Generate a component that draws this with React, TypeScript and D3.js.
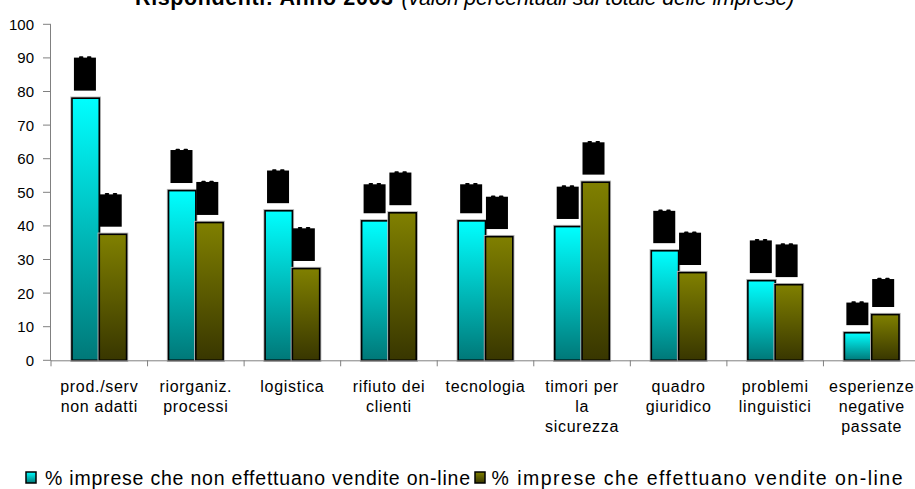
import React from "react";
import * as d3 from "d3";

// Categories (multi-line labels split on "\n")
const categories = [
  "prod./serv\nnon adatti",
  "riorganiz.\nprocessi",
  "logistica",
  "rifiuto dei\nclienti",
  "tecnologia",
  "timori per\nla\nsicurezza",
  "quadro\ngiuridico",
  "problemi\nlinguistici",
  "esperienze\nnegative\npassate",
];

const seriesNames = [
  "% imprese che non effettuano vendite on-line",
  "% imprese che effettuano vendite on-line",
];

const nonSellers = [78.0, 50.5, 44.5, 41.5, 41.5, 39.8, 32.6, 23.7, 8.2];
const sellers = [37.5, 41.0, 27.3, 43.9, 36.8, 53.0, 26.1, 22.5, 13.6];

// Upper end of the black value-label blocks above each bar (same units as the bars)
const nonSellersUpper = [90.5, 63.0, 56.9, 52.8, 52.8, 52.1, 44.9, 36.1, 17.6];
const sellersUpper = [49.8, 53.5, 39.7, 56.3, 49.1, 65.3, 38.4, 34.9, 24.6];

const yTicks = [0, 10, 20, 30, 40, 50, 60, 70, 80, 90, 100];

const titleBold = "Rispondenti: Anno 2003";
const titleItalic = "(valori percentuali sul totale delle imprese)";

const W = 915;
const H = 489;
const FONT = "Arial, 'Liberation Sans', Helvetica, sans-serif";

export default function App() {
  const y = d3.scaleLinear().domain([0, 100]).range([360.3, 24.3]);
  const x0 = d3.scaleBand<number>().domain(d3.range(categories.length)).range([51, 920]).padding(0);
  const bw = x0.bandwidth();
  const groupW = 54.6;
  const x1 = d3
    .scaleBand<number>()
    .domain([0, 1])
    .range([(bw - groupW) / 2, (bw + groupW) / 2])
    .padding(0);
  const barW = x1.bandwidth();

  const series = [nonSellers, sellers];
  const uppers = [nonSellersUpper, sellersUpper];
  const gradIds = ["gradCyan", "gradOlive"];
  const labelShift = [-0.7, -2.2];

  return (
    <svg
      width={W}
      height={H}
      style={{ position: "absolute", left: 0, top: 0, background: "#fff" }}
      fontFamily={FONT}
    >
      <defs>
        <linearGradient id="gradCyan" x1="0" y1="0" x2="0" y2="1">
          <stop offset="0" stopColor="#00ffff" />
          <stop offset="1" stopColor="#007878" />
        </linearGradient>
        <linearGradient id="gradOlive" x1="0" y1="0" x2="0" y2="1">
          <stop offset="0" stopColor="#808000" />
          <stop offset="1" stopColor="#383600" />
        </linearGradient>
      </defs>

      {/* Title */}
      <text x={135} y={5} fontSize={21.5} fill="#000" fontWeight="bold" textLength={258} lengthAdjust="spacing">
        {titleBold}
      </text>
      <text x={401.5} y={5} fontSize={21.5} fill="#000" fontStyle="italic" textLength={393} lengthAdjust="spacing">
        {titleItalic}
      </text>

      {/* Y axis */}
      <line x1={50.5} x2={50.5} y1={y(100)} y2={y(0)} stroke="#808080" strokeWidth={1} />
      {yTicks.map((t) => (
        <g key={t}>
          <line x1={43} x2={51} y1={y(t)} y2={y(t)} stroke="#808080" strokeWidth={1} />
          <text x={34} y={y(t)} dy="0.36em" textAnchor="end" fontSize={15} fill="#000">
            {t}
          </text>
        </g>
      ))}

      {/* Bars */}
      {categories.map((c, i) => (
        <g key={c} transform={`translate(${x0(i)},0)`}>
          {series.map((vals, s) => {
            const bx = x1(s)!;
            const by = y(vals[i]);
            const bh = y(0) - by;
            return (
              <g key={s}>
                <rect x={bx} y={by} width={barW} height={bh} fill="none" stroke="#b8b8b8" strokeWidth={3.4} />
                <rect x={bx} y={by} width={barW} height={bh} fill={`url(#${gradIds[s]})`} stroke="#000" strokeWidth={1.6} />
              </g>
            );
          })}
          {series.map((vals, s) => {
            const cx = x1(s)! + barW / 2 + labelShift[s];
            const bottom = y(vals[i]) - 7.6;
            const top = y(uppers[s][i]) + 1.4;
            return (
              <g key={"l" + s} fill="#000">
                <rect x={cx - 11} y={top} width={22} height={bottom - top} />
                <rect x={cx - 6} y={top - 1.3} width={4.5} height={2} rx={1} />
                <rect x={cx + 2} y={top - 1.3} width={4.5} height={2} rx={1} />
              </g>
            );
          })}
        </g>
      ))}

      {/* X axis */}
      <line x1={51} x2={W} y1={y(0) + 0.5} y2={y(0) + 0.5} stroke="#808080" strokeWidth={1} />
      {d3.range(categories.length + 1).map((i) => {
        const xx = 51 + i * bw;
        return <line key={i} x1={xx} x2={xx} y1={y(0)} y2={y(0) + 6} stroke="#808080" strokeWidth={1} />;
      })}

      {/* Category labels */}
      {categories.map((c, i) => (
        <text
          key={"t" + i}
          x={x0(i)! + bw / 2}
          y={392}
          textAnchor="middle"
          fontSize={16}
          letterSpacing={0.7}
          fill="#000"
        >
          {c.split("\n").map((line, k) => (
            <tspan key={k} x={x0(i)! + bw / 2} dy={k === 0 ? 0 : 20}>
              {line}
            </tspan>
          ))}
        </text>
      ))}

      {/* Legend */}
      {[
        { sx: 26, tx: 45, tw: 425 },
        { sx: 475, tx: 491.5, tw: 411 },
      ].map((p, s) => (
        <g key={"lg" + s}>
          <rect x={p.sx} y={472} width={10} height={11} fill={`url(#${gradIds[s]})`} stroke="#000" strokeWidth={1.5} />
          <text x={p.tx} y={485} fontSize={19.5} fill="#000" textLength={p.tw} lengthAdjust="spacing">
            {seriesNames[s]}
          </text>
        </g>
      ))}
    </svg>
  );
}
